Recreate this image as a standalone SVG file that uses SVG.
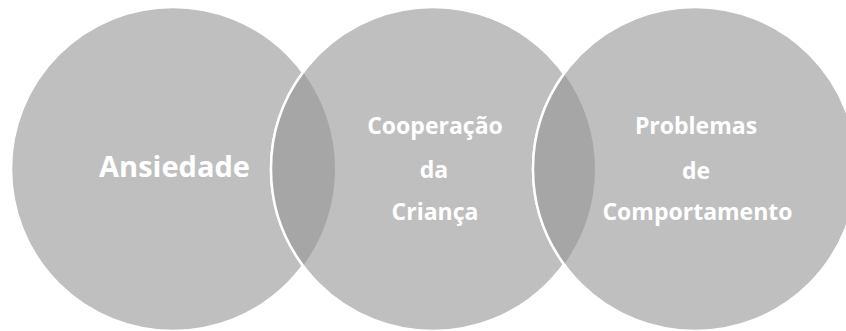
<svg xmlns="http://www.w3.org/2000/svg" width="846" height="331" viewBox="0 0 846 331">
  <style>
    .circle { fill: #bfbfbf; stroke: #ffffff; stroke-width: 2.5; }
    .lens { fill: #a6a6a6; stroke: none; }
    .edge { fill: none; stroke: #ffffff; stroke-width: 2.5; }
    .label { font-family: "Open Sans", "Liberation Sans", sans-serif; font-weight: bold; fill: #ffffff; text-anchor: middle; }
    .big { font-size: 29px; }
    .small { font-size: 23px; }
  </style>
  <rect width="846" height="331" fill="#ffffff"/>
  <g id="node-ansiedade">
    <circle class="circle" cx="173" cy="169" r="162"/>
  </g>
  <g id="node-cooperacao">
    <circle class="circle" cx="433" cy="169" r="162"/>
  </g>
  <g id="node-problemas">
    <circle class="circle" cx="695" cy="169" r="162"/>
  </g>
  <g id="overlaps">
    <path class="lens" d="M 303 72.3 A 162 162 0 0 0 303 265.7 A 162 162 0 0 0 303 72.3 Z"/>
    <path class="edge" d="M 303 72.3 A 162 162 0 0 0 303 265.7"/>
    <path class="lens" d="M 564 73.7 A 162 162 0 0 0 564 264.3 A 162 162 0 0 0 564 73.7 Z"/>
    <path class="edge" d="M 564 73.7 A 162 162 0 0 0 564 264.3"/>
  </g>
  <g id="labels">
    <text class="label big" x="174.5" y="177">Ansiedade</text>
    <text class="label small" x="435" y="134">Cooperação</text>
    <text class="label small" x="434" y="178">da</text>
    <text class="label small" x="435" y="220">Criança</text>
    <text class="label small" x="696" y="134">Problemas</text>
    <text class="label small" x="696" y="179">de</text>
    <text class="label small" x="697.5" y="220">Comportamento</text>
  </g>
</svg>
